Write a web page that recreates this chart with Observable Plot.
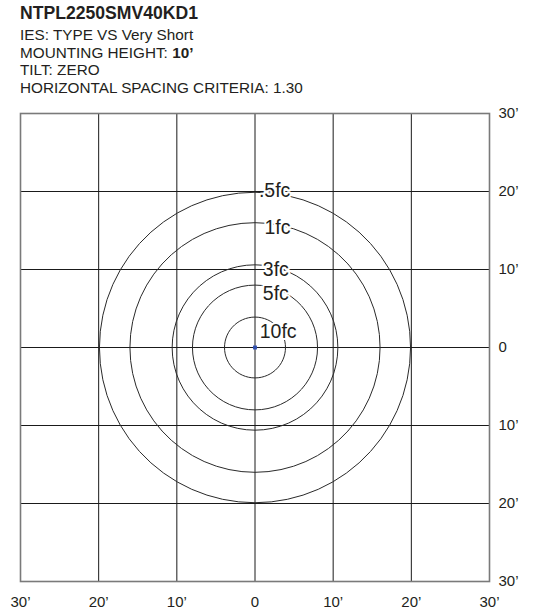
<!DOCTYPE html>
<html><head><meta charset="utf-8">
<script src="https://cdn.jsdelivr.net/npm/d3@7"></script>
<script src="https://cdn.jsdelivr.net/npm/@observablehq/plot@0.6"></script>
<style>
body{margin:0;background:#fff;font-family:"Liberation Sans",Arial,sans-serif;}
#wrap{position:relative;width:533px;height:612px;overflow:hidden;background:#fff}
.t{position:absolute;left:20px;white-space:nowrap;color:#231f20;font-family:"Liberation Sans",Arial,sans-serif}
.title{font-weight:bold;font-size:17.6px;line-height:20px}
.sub{font-size:15.3px;line-height:17.5px}
#chart{position:absolute;top:100px;left:0}
</style></head><body>
<div id="wrap">
<div id="header"></div>
<div id="chart"></div>
</div>
<script>
const titleText = "NTPL2250SMV40KD1";
const infoLabels = ["IES: TYPE VS Very Short", "MOUNTING HEIGHT: ", "TILT: ZERO", "HORIZONTAL SPACING CRITERIA: 1.30"];
const infoBold = ["", "10’", "", ""];
const levels = [".5fc", "1fc", "3fc", "5fc", "10fc"];
const radii = [19.9, 16.0, 10.6, 8.0, 3.9];
const labelX = [0.5, 1.2, 1.0, 1.0, 0.6];
const labelY = [20.1, 15.4, 10.0, 6.9, 2.0];
const gridTicks = [-30, -20, -10, 0, 10, 20, 30];
const xTickLabels = ["30’", "20’", "10’", "0", "10’", "20’", "30’"];
const yTickLabels = ["30’", "20’", "10’", "0", "10’", "20’", "30’"];
const sourcePoint = [{x: 0, y: 0}];

// header
const header = document.getElementById("header");
const t = document.createElement("div");
t.className = "t title"; t.style.top = "3px"; t.textContent = titleText;
header.appendChild(t);
infoLabels.forEach((s, i) => {
  const d = document.createElement("div");
  d.className = "t sub";
  d.style.top = (26 + i * 17.5) + "px";
  d.textContent = s;
  if (infoBold[i]) { const b = document.createElement("b"); b.textContent = infoBold[i]; d.appendChild(b); }
  header.appendChild(d);
});

// contour outlines
const contour = [];
levels.forEach((lv, i) => {
  for (let a = 0; a <= 360; a += 6) {
    const th = a * Math.PI / 180;
    contour.push({level: lv, x: radii[i] * Math.cos(th), y: radii[i] * Math.sin(th)});
  }
});
const labels = levels.map((lv, i) => ({level: lv, x: labelX[i], y: labelY[i]}));
const innerTicks = gridTicks.slice(1, -1);

const chart = Plot.plot({
  width: 533, height: 512,
  marginTop: 13, marginBottom: 31, marginLeft: 20, marginRight: 44,
  style: {fontFamily: "'Liberation Sans', Arial, sans-serif", background: "white", color: "#231f20"},
  x: {domain: [-30, 30]},
  y: {domain: [-30, 30]},
  marks: [
    Plot.ruleX(innerTicks, {stroke: "#1a1a1a", strokeWidth: 1}),
    Plot.ruleY(innerTicks, {stroke: "#1a1a1a", strokeWidth: 1}),
    Plot.frame({stroke: "#7a7a7a", strokeWidth: 1.6}),
    Plot.line(contour, {x: "x", y: "y", z: "level", stroke: "#2a2a2a", strokeWidth: 1}),
    Plot.dot(sourcePoint, {x: "x", y: "y", symbol: "square", r: 2.2, fill: "#2f4fb0", stroke: "none"}),
    Plot.text(labels, {x: "x", y: "y", text: "level", textAnchor: "start", fontSize: 19.5, fill: "#231f20", stroke: "white", strokeWidth: 4}),
    Plot.axisX({ticks: gridTicks, tickFormat: (d) => xTickLabels[gridTicks.indexOf(d)], tickSize: 0, tickPadding: 15, fontSize: 15, label: null}),
    Plot.axisY({anchor: "right", ticks: gridTicks, tickFormat: (d) => yTickLabels[gridTicks.indexOf(d)], tickSize: 0, tickPadding: 9, fontSize: 15, label: null})
  ]
});
document.getElementById("chart").appendChild(chart);
</script>
</body></html>
